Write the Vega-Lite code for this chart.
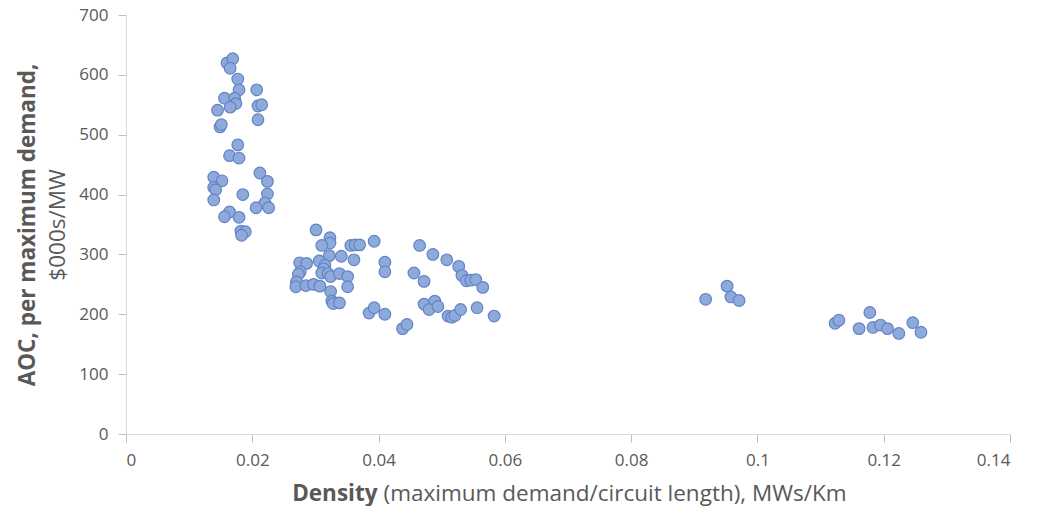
{
  "$schema": "https://vega.github.io/schema/vega-lite/v6.json",
  "width": 884,
  "height": 419,
  "autosize": {"type": "none"},
  "padding": {"left": 126, "top": 15, "right": 36, "bottom": 72},
  "background": "white",
  "config": {
    "view": {"stroke": null},
    "font": "Open Sans",
    "axis": {
      "grid": false,
      "domainColor": "#d9d9d9",
      "tickColor": "#bfbfbf",
      "tickSize": 8,
      "labelFont": "Open Sans",
      "labelFontSize": 17,
      "labelColor": "#595959",
      "titleFont": "Open Sans",
      "titleColor": "#595959",
      "titleFontSize": 22.5
    }
  },
  "data": {
    "values": [
      {"density": 0.0160, "aoc": 620}, {"density": 0.0169, "aoc": 627}, {"density": 0.0165, "aoc": 611},
      {"density": 0.0177, "aoc": 593}, {"density": 0.0179, "aoc": 575}, {"density": 0.0207, "aoc": 575},
      {"density": 0.0156, "aoc": 561}, {"density": 0.0172, "aoc": 561}, {"density": 0.0174, "aoc": 552},
      {"density": 0.0165, "aoc": 546}, {"density": 0.0145, "aoc": 541}, {"density": 0.0209, "aoc": 548},
      {"density": 0.0215, "aoc": 550}, {"density": 0.0209, "aoc": 525}, {"density": 0.0149, "aoc": 513},
      {"density": 0.0151, "aoc": 517}, {"density": 0.0177, "aoc": 483}, {"density": 0.0164, "aoc": 465},
      {"density": 0.0179, "aoc": 461}, {"density": 0.0212, "aoc": 436}, {"density": 0.0224, "aoc": 422},
      {"density": 0.0139, "aoc": 429}, {"density": 0.0152, "aoc": 423}, {"density": 0.0139, "aoc": 412},
      {"density": 0.0142, "aoc": 408}, {"density": 0.0185, "aoc": 400}, {"density": 0.0224, "aoc": 401},
      {"density": 0.0139, "aoc": 391}, {"density": 0.0220, "aoc": 386}, {"density": 0.0206, "aoc": 378},
      {"density": 0.0226, "aoc": 378}, {"density": 0.0164, "aoc": 371}, {"density": 0.0156, "aoc": 363},
      {"density": 0.0179, "aoc": 362}, {"density": 0.0182, "aoc": 339}, {"density": 0.0189, "aoc": 338},
      {"density": 0.0183, "aoc": 332},
      {"density": 0.0301, "aoc": 341}, {"density": 0.0323, "aoc": 328}, {"density": 0.0323, "aoc": 319},
      {"density": 0.0310, "aoc": 315}, {"density": 0.0356, "aoc": 315}, {"density": 0.0363, "aoc": 316},
      {"density": 0.0370, "aoc": 316}, {"density": 0.0393, "aoc": 322}, {"density": 0.0322, "aoc": 298},
      {"density": 0.0341, "aoc": 297}, {"density": 0.0361, "aoc": 291}, {"density": 0.0306, "aoc": 289},
      {"density": 0.0275, "aoc": 286}, {"density": 0.0286, "aoc": 285}, {"density": 0.0315, "aoc": 282},
      {"density": 0.0313, "aoc": 276}, {"density": 0.0276, "aoc": 271}, {"density": 0.0273, "aoc": 267},
      {"density": 0.0310, "aoc": 269}, {"density": 0.0320, "aoc": 268}, {"density": 0.0324, "aoc": 263},
      {"density": 0.0338, "aoc": 268}, {"density": 0.0351, "aoc": 263}, {"density": 0.0410, "aoc": 287},
      {"density": 0.0410, "aoc": 271}, {"density": 0.0270, "aoc": 254}, {"density": 0.0269, "aoc": 246},
      {"density": 0.0285, "aoc": 248}, {"density": 0.0297, "aoc": 250}, {"density": 0.0307, "aoc": 247},
      {"density": 0.0351, "aoc": 246}, {"density": 0.0324, "aoc": 238}, {"density": 0.0326, "aoc": 222},
      {"density": 0.0328, "aoc": 218}, {"density": 0.0338, "aoc": 219}, {"density": 0.0385, "aoc": 202},
      {"density": 0.0393, "aoc": 211}, {"density": 0.0410, "aoc": 200},
      {"density": 0.0465, "aoc": 315}, {"density": 0.0486, "aoc": 300}, {"density": 0.0508, "aoc": 291},
      {"density": 0.0527, "aoc": 280}, {"density": 0.0532, "aoc": 265}, {"density": 0.0539, "aoc": 256},
      {"density": 0.0546, "aoc": 257}, {"density": 0.0554, "aoc": 258}, {"density": 0.0565, "aoc": 245},
      {"density": 0.0456, "aoc": 269}, {"density": 0.0472, "aoc": 255}, {"density": 0.0472, "aoc": 217},
      {"density": 0.0489, "aoc": 222}, {"density": 0.0480, "aoc": 208}, {"density": 0.0494, "aoc": 213},
      {"density": 0.0510, "aoc": 197}, {"density": 0.0516, "aoc": 195}, {"density": 0.0521, "aoc": 198},
      {"density": 0.0530, "aoc": 208}, {"density": 0.0556, "aoc": 211}, {"density": 0.0583, "aoc": 197},
      {"density": 0.0438, "aoc": 176}, {"density": 0.0445, "aoc": 183},
      {"density": 0.0918, "aoc": 225}, {"density": 0.0952, "aoc": 247}, {"density": 0.0958, "aoc": 229},
      {"density": 0.0971, "aoc": 223}, {"density": 0.1123, "aoc": 185}, {"density": 0.1129, "aoc": 190},
      {"density": 0.1178, "aoc": 203}, {"density": 0.1161, "aoc": 176}, {"density": 0.1183, "aoc": 178},
      {"density": 0.1195, "aoc": 182}, {"density": 0.1206, "aoc": 176}, {"density": 0.1224, "aoc": 168},
      {"density": 0.1246, "aoc": 186}, {"density": 0.1259, "aoc": 170}
    ]
  },
  "layer": [
    {
      "mark": {"type": "point", "filled": true, "size": 135, "fill": "#8eaadb", "stroke": "#6383c6", "strokeWidth": 1.2, "opacity": 1},
      "encoding": {
        "x": {
          "field": "density", "type": "quantitative",
          "scale": {"domain": [0, 0.14], "nice": false, "zero": true},
          "axis": {
            "orient": "bottom",
            "values": [0, 0.02, 0.04, 0.06, 0.08, 0.1, 0.12, 0.14],
            "format": ".2~f",
            "labelPadding": 10,
            "title": "Density",
            "titleFontWeight": "bold",
            "titleAlign": "right",
            "titleBaseline": "alphabetic",
            "titleX": 251,
            "titleY": 66,
            "titleAngle": 0
          }
        },
        "y": {
          "field": "aoc", "type": "quantitative",
          "scale": {"domain": [0, 700], "nice": false},
          "axis": {
            "orient": "left",
            "values": [0, 100, 200, 300, 400, 500, 600, 700],
            "labelPadding": 10,
            "title": "AOC, per maximum demand,",
            "titleFontWeight": "bold",
            "titleAngle": -90,
            "titleAlign": "center",
            "titleBaseline": "middle",
            "titleX": -99,
            "titleY": 209.5
          }
        }
      }
    },
    {
      "mark": {"type": "point", "opacity": 0},
      "encoding": {
        "x": {
          "field": "density", "type": "quantitative",
          "scale": {"domain": [0, 0.14], "nice": false},
          "axis": {
            "orient": "bottom",
            "domain": false, "ticks": false, "labels": false,
            "title": "(maximum demand/circuit length), MWs/Km",
            "titleFontWeight": "normal",
            "titleAlign": "left",
            "titleBaseline": "alphabetic",
            "titleX": 257,
            "titleY": 66,
            "titleAngle": 0
          }
        },
        "y": {
          "field": "aoc", "type": "quantitative",
          "scale": {"domain": [0, 700], "nice": false},
          "axis": {
            "orient": "left",
            "domain": false, "ticks": false, "labels": false,
            "title": "$000s/MW",
            "titleFontWeight": "normal",
            "titleAngle": -90,
            "titleAlign": "center",
            "titleBaseline": "middle",
            "titleX": -69,
            "titleY": 209.5
          }
        }
      }
    }
  ],
  "resolve": {"axis": {"x": "independent", "y": "independent"}}
}
